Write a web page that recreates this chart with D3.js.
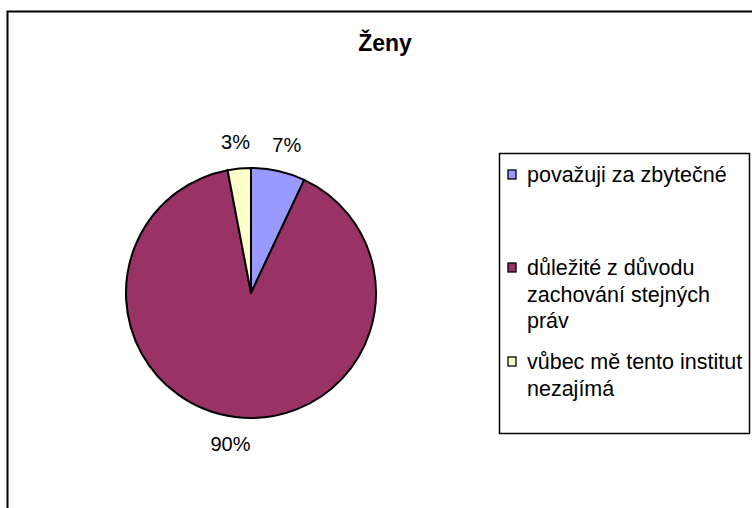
<!DOCTYPE html>
<html>
<head>
<meta charset="utf-8">
<script src="https://cdn.jsdelivr.net/npm/d3@7"></script>
<style>
  html, body { margin: 0; padding: 0; background: #fff; }
  svg { display: block; font-family: "Liberation Sans", Arial, sans-serif; }
</style>
</head>
<body>
<div id="chart"></div>
<script>
// data
const title = "Ženy";
const categories = ["považuji za zbytečné", "důležité z důvodu zachování stejných práv", "vůbec mě tento institut nezajímá"];
const legendLines = [["považuji za zbytečné"], ["důležité z důvodu", "zachování stejných", "práv"], ["vůbec mě tento institut", "nezajímá"]];
const values = [7, 90, 3];
const colors = ["#9999FF", "#993366", "#FFFFCC"];

const width = 752, height = 508;
const cx = 251, cy = 293, radius = 125;

const svg = d3.select("#chart").append("svg")
  .attr("width", width).attr("height", height);

// chart frame (runs off the right and bottom edge)
svg.append("rect")
  .attr("x", 7.5).attr("y", 11.5)
  .attr("width", 800).attr("height", 600)
  .attr("fill", "#fff").attr("stroke", "#000").attr("stroke-width", 2);

svg.append("text")
  .attr("x", 385).attr("y", 51)
  .attr("text-anchor", "middle")
  .attr("font-size", "23px").attr("font-weight", "bold")
  .text(title);

const total = d3.sum(values);
const pie = d3.pie().sort(null).value(d => d);
const arcs = pie(values);
const arc = d3.arc().innerRadius(0).outerRadius(radius);
const labelArc = d3.arc().innerRadius(152).outerRadius(152);

const g = svg.append("g").attr("transform", `translate(${cx},${cy})`);

g.selectAll("path")
  .data(arcs)
  .enter().append("path")
  .attr("d", arc)
  .attr("fill", (d, i) => colors[i])
  .attr("stroke", "#000")
  .attr("stroke-width", 2)
  .attr("stroke-linejoin", "round");

g.selectAll("text.pct")
  .data(arcs)
  .enter().append("text")
  .attr("class", "pct")
  .attr("transform", d => {
    const c = labelArc.centroid(d);
    // push labels a bit sideways, like the spreadsheet does
    const a = (d.startAngle + d.endAngle) / 2;
    return `translate(${c[0] + Math.sin(a) * 12},${c[1]})`;
  })
  .attr("text-anchor", "middle")
  .attr("dy", "0.35em")
  .attr("font-size", "20px")
  .text(d => Math.round(d.data / total * 100) + "%");

// legend
svg.append("rect")
  .attr("x", 499.5).attr("y", 153.5)
  .attr("width", 250).attr("height", 280)
  .attr("fill", "#fff").attr("stroke", "#000").attr("stroke-width", 1.5);

const itemY = [175, 268, 362];
const lineH = 26.5;

const items = svg.selectAll("g.item")
  .data(categories)
  .enter().append("g")
  .attr("class", "item")
  .attr("transform", (d, i) => `translate(0,${itemY[i]})`);

items.append("rect")
  .attr("x", 508).attr("y", -5)
  .attr("width", 8).attr("height", 9)
  .attr("fill", (d, i) => colors[i])
  .attr("stroke", "#000").attr("stroke-width", 1.3);

items.each(function(d, i) {
  d3.select(this).selectAll("text")
    .data(legendLines[i])
    .enter().append("text")
    .attr("x", 527)
    .attr("y", (t, j) => 7 + j * lineH)
    .attr("font-size", "21.5px")
    .text(t => t);
});
</script>
</body>
</html>
